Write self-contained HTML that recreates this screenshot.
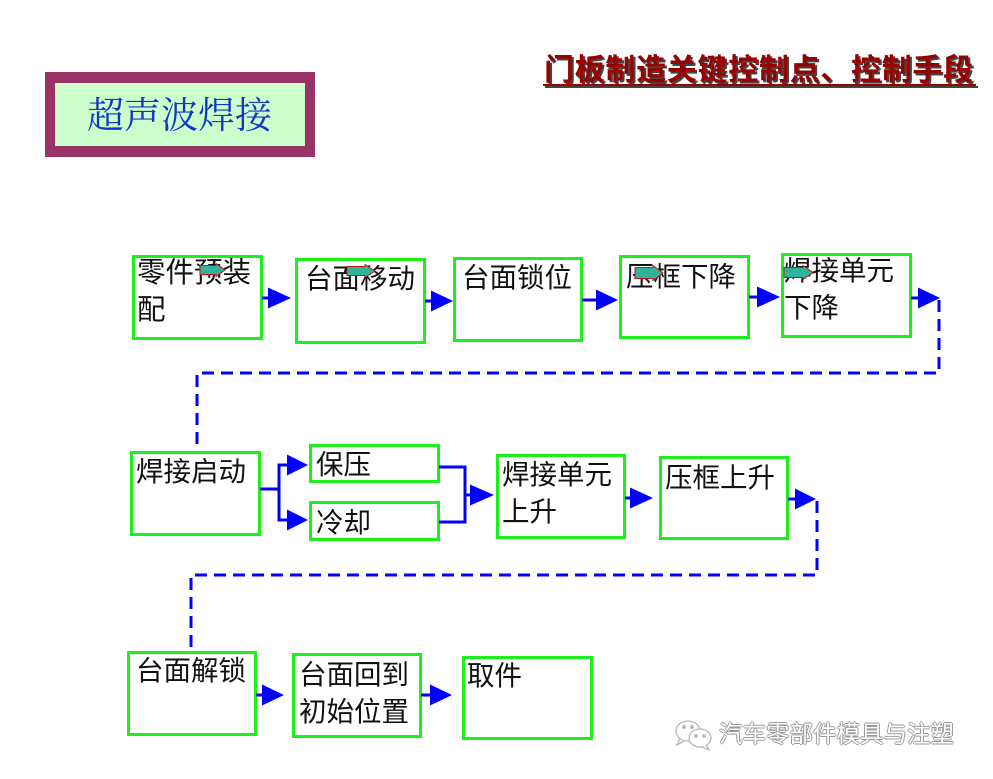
<!DOCTYPE html>
<html><head><meta charset="utf-8">
<style>
html,body{margin:0;padding:0;background:#fff;}
#c{position:relative;width:993px;height:779px;overflow:hidden;background:#fff;}
.b{position:absolute;box-sizing:border-box;border:3px solid #1cf01c;background:#fff;}
.t{position:absolute;font-family:"Liberation Sans","Noto Sans CJK SC",sans-serif;font-size:27.5px;line-height:37px;color:#111;white-space:nowrap;}
svg{position:absolute;left:0;top:0;}
</style></head><body><div id="c">

<!-- header box -->
<div style="position:absolute;left:45px;top:72px;width:270px;height:85px;background:#993366;"></div>
<div style="position:absolute;left:55px;top:83px;width:250px;height:63px;background:#ccffcc;"></div>
<div style="position:absolute;left:87px;top:96px;font-family:'Liberation Serif','Noto Serif CJK SC',serif;font-size:37px;line-height:42px;color:#1038c8;white-space:nowrap;">超声波焊接</div>

<!-- title -->
<div style="position:absolute;left:544px;top:55px;font-family:'Liberation Sans','Noto Sans CJK SC',sans-serif;font-weight:bold;font-size:30px;line-height:32px;letter-spacing:0.7px;color:#990000;text-shadow:2px 2px 0 #444;white-space:nowrap;">门板制造关键控制点、控制手段</div>
<div style="position:absolute;left:543px;top:84px;width:433px;height:2px;background:#990000;box-shadow:2px 2px 0 #444;"></div>

<!-- boxes -->
<div class="b" style="left:132px;top:255px;width:131px;height:85px;"></div>
<div class="b" style="left:295px;top:258px;width:131px;height:86px;"></div>
<div class="b" style="left:453px;top:257px;width:130px;height:85px;"></div>
<div class="b" style="left:619px;top:255px;width:131px;height:84px;"></div>
<div class="b" style="left:781px;top:253px;width:131px;height:85px;"></div>
<div class="b" style="left:130px;top:451px;width:131px;height:85px;"></div>
<div class="b" style="left:309px;top:444px;width:131px;height:39px;"></div>
<div class="b" style="left:309px;top:501px;width:131px;height:40px;"></div>
<div class="b" style="left:496px;top:454px;width:130px;height:85px;"></div>
<div class="b" style="left:659px;top:456px;width:130px;height:84px;"></div>
<div class="b" style="left:127px;top:651px;width:130px;height:85px;"></div>
<div class="b" style="left:292px;top:653px;width:130px;height:85px;"></div>
<div class="b" style="left:462px;top:656px;width:131px;height:84px;"></div>

<!-- texts -->
<div class="t" style="left:137px;top:255px;font-size:28.5px;">零件预装<br>配</div>
<div class="t" style="left:305px;top:260px;">台面移动</div>
<div class="t" style="left:462px;top:259px;">台面锁位</div>
<div class="t" style="left:626px;top:258px;">压框下降</div>
<div class="t" style="left:784px;top:252px;">焊接单元<br>下降</div>
<div class="t" style="left:136px;top:453px;">焊接启动</div>
<div class="t" style="left:316px;top:446px;">保压</div>
<div class="t" style="left:316px;top:504px;">冷却</div>
<div class="t" style="left:502px;top:456px;">焊接单元<br>上升</div>
<div class="t" style="left:665px;top:459px;">压框上升</div>
<div class="t" style="left:136px;top:652px;">台面解锁</div>
<div class="t" style="left:299px;top:656px;">台面回到<br>初始位置</div>
<div class="t" style="left:467px;top:657px;">取件</div>

<svg width="993" height="779" viewBox="0 0 993 779">
  <g fill="#0000ff" stroke="none">
    <!-- row1 -->
    <rect x="262" y="296.5" width="8" height="3"/>
    <polygon points="268,287.5 268,308.5 291,298"/>
    <rect x="425" y="299.5" width="8" height="3"/>
    <polygon points="431,290.5 431,311.5 453,301"/>
    <rect x="582" y="298.5" width="16" height="3"/>
    <polygon points="596,289.5 596,310.5 618,300"/>
    <rect x="749" y="295.5" width="10" height="3"/>
    <polygon points="757,286.5 757,307.5 780,297"/>
    <rect x="911" y="296.5" width="9" height="3"/>
    <polygon points="918,287.5 918,308.5 940,298"/>
    <!-- row2 -->
    <rect x="260" y="487.5" width="20" height="3"/>
    <rect x="277.5" y="463.5" width="3" height="58"/>
    <rect x="277.5" y="463.5" width="11" height="3"/>
    <rect x="277.5" y="518.5" width="11" height="3"/>
    <polygon points="287,454.5 287,475.5 308,465"/>
    <polygon points="287,509.5 287,530.5 308,520"/>
    <rect x="439" y="465.5" width="27" height="3"/>
    <rect x="439" y="520.5" width="27" height="3"/>
    <rect x="463.5" y="465.5" width="3" height="58"/>
    <rect x="463.5" y="493.5" width="8" height="3"/>
    <polygon points="470,484.5 470,505.5 494,495"/>
    <rect x="625" y="496.5" width="7" height="3"/>
    <polygon points="630,487.5 630,508.5 653,498"/>
    <rect x="788" y="497.5" width="9" height="3"/>
    <polygon points="795,488.5 795,509.5 816,499"/>
    <!-- row3 -->
    <rect x="256" y="693.5" width="8" height="3"/>
    <polygon points="262,684.5 262,705.5 284,695"/>
    <rect x="421" y="693.5" width="11" height="3"/>
    <polygon points="430,684.5 430,705.5 452,695"/>
  </g>
  <g fill="none" stroke="#0000ff" stroke-width="3" stroke-dasharray="12 7">
    <polyline points="939,300 939,373 197,373 197,448"/>
    <polyline points="817,501 817,575 191,575 191,648"/>
  </g>
  <!-- teal overlay arrows -->
  <g fill="#2fb39c" stroke="#cc1111" stroke-width="1">
    <polygon points="200,265.5 216,265.5 216,263.5 225,270 216,276.5 216,274.5 200,274.5"/>
    <polygon points="347,266.5 365,266.5 365,264.5 375,271 365,277.5 365,275.5 347,275.5"/>
    <polygon points="635,267.5 653,267.5 653,265.5 663,273 653,280.5 653,278.5 635,278.5"/>
    <polygon points="784,267.5 803,267.5 803,265.5 813,272.5 803,279.5 803,277.5 784,277.5"/>
  </g>
  <!-- watermark icon -->
  <g fill="#fff" stroke="#b8b8b8" stroke-width="1.3">
    <ellipse cx="688" cy="731" rx="12" ry="10"/>
    <path d="M680,739 l-3,6 l7,-4"/>
    <ellipse cx="700" cy="738" rx="11" ry="9"/>
    <path d="M706,745 l3,5 l-7,-3"/>
    <circle cx="684" cy="727" r="1.3" fill="#b8b8b8"/>
    <circle cx="692" cy="727" r="1.3" fill="#b8b8b8"/>
    <circle cx="696" cy="736" r="1.2" fill="#b8b8b8"/>
    <circle cx="704" cy="736" r="1.2" fill="#b8b8b8"/>
  </g>
</svg>

<div style="position:absolute;left:719px;top:720px;font-family:'Liberation Sans','Noto Sans CJK SC',sans-serif;font-size:23.5px;line-height:28px;color:#fff;white-space:nowrap;text-shadow:1px 0 0 #999,-1px 0 0 #999,0 1px 0 #999,0 -1px 0 #999;">汽车零部件模具与注塑</div>

</div></body></html>
